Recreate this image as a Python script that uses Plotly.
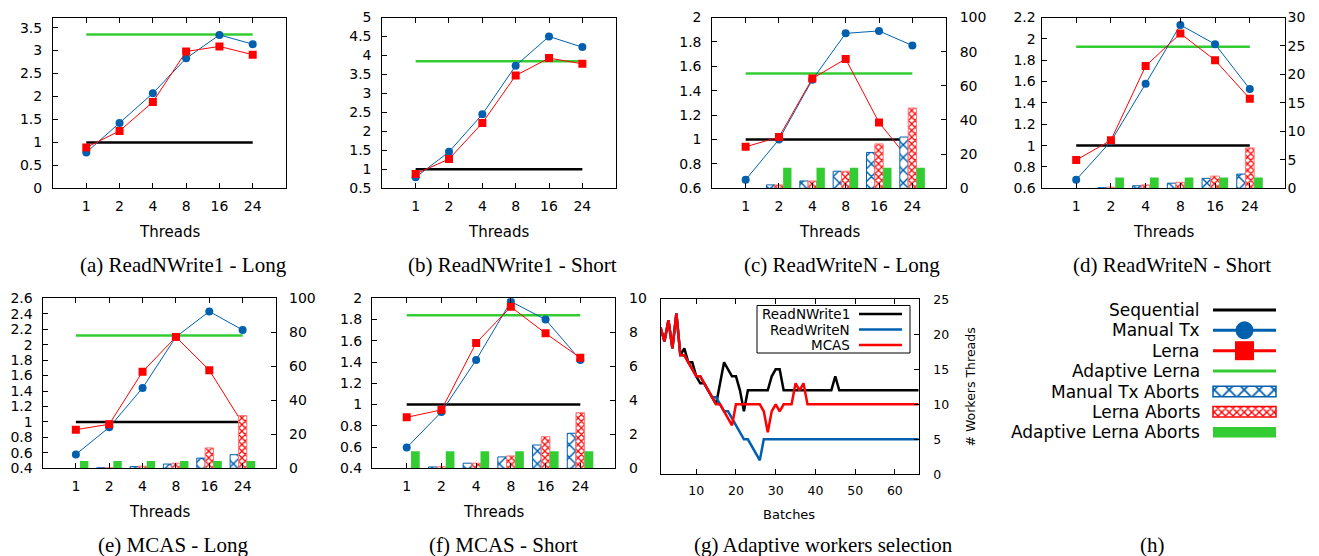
import plotly.graph_objects as go

W, H = 1319, 556

# ---------------- data ----------------
threads = ["1", "2", "4", "8", "16", "24"]
sequential = [1.0, 1.0, 1.0, 1.0, 1.0, 1.0]

# (a) ReadNWrite1 - Long
a_manual_tx = [0.78, 1.42, 2.07, 2.83, 3.34, 3.14]
a_lerna = [0.89, 1.25, 1.88, 2.98, 3.09, 2.91]
a_adaptive = [3.35, 3.35, 3.35, 3.35, 3.35, 3.35]

# (b) ReadNWrite1 - Short
b_manual_tx = [0.79, 1.46, 2.45, 3.73, 4.50, 4.22]
b_lerna = [0.88, 1.27, 2.22, 3.47, 3.93, 3.78]
b_adaptive = [3.85, 3.85, 3.85, 3.85, 3.85, 3.85]

# (c) ReadWriteN - Long
c_manual_tx = [0.67, 1.00, 1.49, 1.87, 1.89, 1.77]
c_lerna = [0.94, 1.02, 1.50, 1.66, 1.14, 0.80]
c_adaptive = [1.54, 1.54, 1.54, 1.54, 1.54, 1.54]
c_manual_aborts = [None, 2, 4.3, 10, 21, 30]
c_lerna_aborts = [None, 2, 4.3, 10, 26, 47]
c_adaptive_aborts = [None, 12, 12, 12, 12, 12]

# (d) ReadWriteN - Short
d_manual_tx = [0.68, 1.04, 1.58, 2.13, 1.95, 1.53]
d_lerna = [0.865, 1.05, 1.745, 2.05, 1.80, 1.44]
d_adaptive = [1.925, 1.925, 1.925, 1.925, 1.925, 1.925]
d_manual_aborts = [None, 0.1, 0.45, 0.9, 1.75, 2.5]
d_lerna_aborts = [None, 0.2, 0.6, 1.05, 2.15, 7.1]
d_adaptive_aborts = [None, 1.9, 1.9, 1.9, 1.9, 1.9]

# (e) MCAS - Long
e_manual_tx = [0.58, 0.93, 1.44, 2.10, 2.43, 2.19]
e_lerna = [0.90, 0.97, 1.65, 2.10, 1.67, 0.98]
e_adaptive = [2.12, 2.12, 2.12, 2.12, 2.12, 2.12]
e_manual_aborts = [None, 0.3, 1.0, 2.5, 6, 8]
e_lerna_aborts = [None, 0.3, 1.2, 3, 12, 31]
e_adaptive_aborts = [4.3, 4.3, 4.3, 4.3, 4.3, 4.3]

# (f) MCAS - Short
f_manual_tx = [0.595, 0.93, 1.42, 1.97, 1.80, 1.42]
f_lerna = [0.88, 0.95, 1.58, 1.92, 1.67, 1.44]
f_adaptive = [1.84, 1.84, 1.84, 1.84, 1.84, 1.84]
f_manual_aborts = [None, 0.08, 0.3, 0.67, 1.37, 2.06]
f_lerna_aborts = [None, 0.1, 0.3, 0.73, 1.86, 3.27]
f_adaptive_aborts = [1.0, 1.0, 1.0, 1.0, 1.0, 1.0]

# (g) Adaptive workers selection
batches = list(range(1, 67))
g_readnwrite1 = [21, 19, 22, 18, 23, 17, 18, 16, 16, 14,
                 13, 13, 12, 11, 10, 13, 16, 15, 14, 14,
                 12, 9, 12, 12, 12, 12, 12, 12, 14, 15,
                 15, 12, 12, 12, 12, 12, 12, 12, 12, 12,
                 12, 12, 12, 12, 14, 12, 12, 12, 12, 12,
                 12, 12, 12, 12, 12, 12, 12, 12, 12, 12,
                 12, 12, 12, 12, 12, 12]
g_readwriten = [21, 19, 22, 18, 23, 17, 17, 16, 15, 14,
                14, 13, 12, 11, 11, 10, 9, 9, 8, 7,
                6, 5, 5, 4, 3, 2, 5, 5, 5, 5,
                5, 5, 5, 5, 5, 5, 5, 5, 5, 5,
                5, 5, 5, 5, 5, 5, 5, 5, 5, 5,
                5, 5, 5, 5, 5, 5, 5, 5, 5, 5,
                5, 5, 5, 5, 5, 5]
g_mcas = [21, 19, 22, 18, 23, 17, 17, 16, 15, 14,
          14, 13, 12, 11, 10, 10, 9, 8, 7, 10,
          10, 10, 10, 10, 10, 10, 9, 6, 9, 10,
          9, 10, 10, 10, 13, 12, 13, 10, 10, 10,
          10, 10, 10, 10, 10, 10, 10, 10, 10, 10,
          10, 10, 10, 10, 10, 10, 10, 10, 10, 10,
          10, 10, 10, 10, 10, 10]

legend_h_labels = ["Sequential", "Manual Tx", "Lerna", "Adaptive Lerna",
                   "Manual Tx Aborts", "Lerna Aborts", "Adaptive Lerna Aborts"]
legend_g_labels = ["ReadNWrite1", "ReadWriteN", "MCAS"]

# ---------------- style ----------------
BLUE = "#0060ad"
RED = "#ff0000"
RED_EDGE = "#ff7777"
GREEN = "#33cc33"
BLACK = "#000000"
FONT = "DejaVu Sans"
SERIF = "Liberation Serif"


def fx(px):
    return px / W


def fy(py):
    return 1 - py / H


def ref(prefix, n):
    return prefix if n == 1 else f"{prefix}{n}"


def key(prefix, n):
    return f"{prefix}axis" if n == 1 else f"{prefix}axis{n}"


def tickfont(size):
    return dict(family=FONT, size=size, color=BLACK)


BLUE_PAT = dict(shape="x", fgcolor=BLUE, bgcolor="white", size=9,
                solidity=0.3, fillmode="overlay", fgopacity=1)
RED_PAT = dict(shape="x", fgcolor=RED, bgcolor="white", size=4.7,
               solidity=0.45, fillmode="overlay", fgopacity=1)

panels = [
    dict(box=(53, 286, 17.5, 188.3), yl=(0, 3.72, 0.5), yr=(0, 100, 20),
         lso=7, rso=13, cap="(a) ReadNWrite1 - Long", capx=183,
         manual=a_manual_tx, lerna=a_lerna, adaptive=a_adaptive, aborts=None),
    dict(box=(382.3, 615.7, 17.5, 188.3), yl=(0.5, 5, 0.5), yr=(0, 100, 20),
         lso=7, rso=13, cap="(b) ReadNWrite1 - Short", capx=512,
         manual=b_manual_tx, lerna=b_lerna, adaptive=b_adaptive, aborts=None),
    dict(box=(712.3, 945.7, 17.5, 188.3), yl=(0.6, 2.0, 0.2), yr=(0, 100, 20),
         lso=7, rso=13, cap="(c) ReadWriteN - Long", capx=842.5,
         manual=c_manual_tx, lerna=c_lerna, adaptive=c_adaptive,
         aborts=(c_manual_aborts, c_lerna_aborts, c_adaptive_aborts)),
    dict(box=(1041.5, 1284.5, 17.5, 188.3), yl=(0.6, 2.2, 0.2), yr=(0, 30, 5),
         lso=2, rso=2, cap="(d) ReadWriteN - Short", capx=1171.7,
         manual=d_manual_tx, lerna=d_lerna, adaptive=d_adaptive,
         aborts=(d_manual_aborts, d_lerna_aborts, d_adaptive_aborts)),
    dict(box=(42.5, 276, 298.3, 468.3), yl=(0.4, 2.6, 0.2), yr=(0, 100, 20),
         lso=6, rso=12, cap="(e) MCAS - Long", capx=172.5,
         manual=e_manual_tx, lerna=e_lerna, adaptive=e_adaptive,
         aborts=(e_manual_aborts, e_lerna_aborts, e_adaptive_aborts)),
    dict(box=(372, 615, 298.3, 468.3), yl=(0.4, 2.0, 0.2), yr=(0, 10, 2),
         lso=6, rso=13, cap="(f) MCAS - Short", capx=503,
         manual=f_manual_tx, lerna=f_lerna, adaptive=f_adaptive,
         aborts=(f_manual_aborts, f_lerna_aborts, f_adaptive_aborts)),
]

fig = go.Figure()
layout = dict(
    width=W, height=H, autosize=False,
    margin=dict(l=0, r=0, t=0, b=0),
    paper_bgcolor="white", plot_bgcolor="rgba(0,0,0,0)",
    showlegend=False, barmode="overlay",
    template="none",
    annotations=[], shapes=[],
)

for i, p in enumerate(panels):
    xn, yln, yrn = i + 1, 2 * i + 1, 2 * i + 2
    xr, ylr, yrr = ref("x", xn), ref("y", yln), ref("y", yrn)
    L, R, T, B = p["box"]
    layout[key("x", xn)] = dict(
        domain=[fx(L), fx(R)], anchor=ylr, type="category",
        categoryorder="array", categoryarray=threads, range=[-1, 6],
        ticks="inside", ticklen=5, tickwidth=1, tickcolor=BLACK,
        showline=True, linecolor=BLACK, linewidth=1, mirror="ticks",
        showgrid=False, zeroline=False, tickfont=tickfont(14),
        ticklabelstandoff=5, fixedrange=True)
    lo, hi, dt = p["yl"]
    layout[key("y", yln)] = dict(
        domain=[fy(B), fy(T)], anchor=xr, range=[lo, hi], tick0=lo, dtick=dt,
        ticks="inside", ticklen=5, tickwidth=1, tickcolor=BLACK,
        showline=True, linecolor=BLACK, linewidth=1, mirror=True,
        showgrid=False, zeroline=False, tickfont=tickfont(14),
        ticklabelstandoff=p["lso"], fixedrange=True)
    lo2, hi2, dt2 = p["yr"]
    layout[key("y", yrn)] = dict(
        overlaying=ylr, side="right", anchor=xr, range=[lo2, hi2], tick0=lo2,
        dtick=dt2, ticks="inside", ticklen=5, tickwidth=1, tickcolor=BLACK,
        showline=False, showgrid=False, zeroline=False, tickfont=tickfont(14),
        ticklabelstandoff=p["rso"], fixedrange=True)

    fig.add_trace(go.Scatter(x=threads, y=sequential, mode="lines",
                             line=dict(color=BLACK, width=2.5),
                             xaxis=xr, yaxis=ylr))
    fig.add_trace(go.Scatter(x=threads, y=p["adaptive"], mode="lines",
                             line=dict(color=GREEN, width=2.5),
                             xaxis=xr, yaxis=ylr))
    fig.add_trace(go.Scatter(x=threads, y=p["manual"], mode="lines+markers",
                             line=dict(color=BLUE, width=1),
                             marker=dict(symbol="circle", size=8, color=BLUE),
                             xaxis=xr, yaxis=ylr))
    fig.add_trace(go.Scatter(x=threads, y=p["lerna"], mode="lines+markers",
                             line=dict(color=RED, width=1),
                             marker=dict(symbol="square", size=8, color=RED),
                             xaxis=xr, yaxis=ylr))
    # abort bars on the right axis (overlay axis, drawn over the lines)
    if p["aborts"] is not None:
        man_ab, ler_ab, ada_ab = p["aborts"]
        fig.add_trace(go.Bar(
            x=threads, y=man_ab, offset=-0.375, width=0.25,
            marker=dict(color="white", line=dict(color=BLUE, width=1),
                        pattern=BLUE_PAT),
            xaxis=xr, yaxis=yrr))
        fig.add_trace(go.Bar(
            x=threads, y=ler_ab, offset=-0.125, width=0.25,
            marker=dict(color="white", line=dict(color=RED_EDGE, width=1),
                        pattern=RED_PAT),
            xaxis=xr, yaxis=yrr))
        fig.add_trace(go.Bar(
            x=threads, y=ada_ab, offset=0.125, width=0.25,
            marker=dict(color=GREEN, line=dict(width=0)),
            xaxis=xr, yaxis=yrr))

    row_y = 231.7 if T < 100 else 512.3
    cap_y = 265 if T < 100 else 544.5
    layout["annotations"].append(dict(
        text="Threads", x=fx((L + R) / 2), y=fy(row_y), xref="paper", yref="paper",
        showarrow=False, xanchor="center", yanchor="middle",
        font=dict(family=FONT, size=15, color=BLACK)))
    layout["annotations"].append(dict(
        text=p["cap"], x=fx(p["capx"]), y=fy(cap_y), xref="paper", yref="paper",
        showarrow=False, xanchor="center", yanchor="middle",
        font=dict(family=SERIF, size=21, color=BLACK)))

# ---------------- panel (g): single y axis on the right ----------------
gL, gR, gT, gB = 660.5, 918.7, 299.3, 474.3
layout["xaxis7"] = dict(
    domain=[fx(gL), fx(gR)], anchor="y13", range=[1, 66],
    tickvals=[10, 20, 30, 40, 50, 60], ticks="inside", ticklen=5,
    tickcolor=BLACK, showline=True, linecolor=BLACK, linewidth=1,
    mirror="ticks", showgrid=False, zeroline=False, tickfont=tickfont(12.5),
    ticklabelstandoff=5, fixedrange=True)
layout["yaxis13"] = dict(
    domain=[fy(gB), fy(gT)], anchor="x7", side="right", range=[0, 25], dtick=5,
    ticks="inside", ticklen=5, tickcolor=BLACK, showline=True, linecolor=BLACK,
    linewidth=1, mirror=True, showgrid=False, zeroline=False,
    tickfont=tickfont(12.5), ticklabelstandoff=11, fixedrange=True)
for series, color in ((g_readnwrite1, BLACK), (g_readwriten, BLUE), (g_mcas, RED)):
    fig.add_trace(go.Scatter(x=batches, y=series, mode="lines",
                             line=dict(color=color, width=2.5),
                             xaxis="x7", yaxis="y13"))
layout["annotations"] += [
    dict(text="Batches", x=fx(789), y=fy(514), xref="paper", yref="paper",
         showarrow=False, xanchor="center", yanchor="middle",
         font=dict(family=FONT, size=13, color=BLACK)),
    dict(text="# Workers Threads", x=fx(970), y=fy(387.5), xref="paper",
         yref="paper", showarrow=False, textangle=-90, xanchor="center",
         yanchor="middle", font=dict(family=FONT, size=12.5, color=BLACK)),
    dict(text="(g) Adaptive workers selection", x=fx(823), y=fy(544.5),
         xref="paper", yref="paper", showarrow=False, xanchor="center",
         yanchor="middle", font=dict(family=SERIF, size=21, color=BLACK)),
    dict(text="(h)", x=fx(1152), y=fy(544.5), xref="paper", yref="paper",
         showarrow=False, xanchor="center", yanchor="middle",
         font=dict(family=SERIF, size=21, color=BLACK)),
]

# legend box of (g)
layout["shapes"].append(dict(type="rect", xref="paper", yref="paper",
                             x0=fx(757), x1=fx(910), y0=fy(353), y1=fy(305.5),
                             line=dict(color=BLACK, width=1), fillcolor="white",
                             layer="above"))
for lab, color, ry in zip(legend_g_labels, (BLACK, BLUE, RED), (314, 329.5, 345)):
    layout["shapes"].append(dict(type="line", xref="paper", yref="paper",
                                 x0=fx(859), x1=fx(902), y0=fy(ry), y1=fy(ry),
                                 line=dict(color=color, width=2.5), layer="above"))
    layout["annotations"].append(dict(
        text=lab, x=fx(852), y=fy(ry), xref="paper", yref="paper",
        showarrow=False, xanchor="right", yanchor="middle",
        font=dict(family=FONT, size=13.5, color=BLACK)))

# ---------------- legend (h) on a hidden pixel-space axis ----------------
layout["xaxis8"] = dict(domain=[0, 1], anchor="y15", range=[0, W], visible=False,
                        fixedrange=True)
layout["yaxis15"] = dict(domain=[0, 1], anchor="x8", range=[H, 0], visible=False,
                         fixedrange=True)
rows = [310, 330.3, 350.7, 371, 391.5, 411.8, 432.2]
sx0, sx1 = 1213, 1276
sxc = (sx0 + sx1) / 2
for lab, ry in zip(legend_h_labels, rows):
    layout["annotations"].append(dict(
        text=lab, x=fx(1202), y=fy(ry), xref="paper", yref="paper",
        showarrow=False, xanchor="right", yanchor="middle",
        font=dict(family=FONT, size=17, color=BLACK)))
line_samples = [(BLACK, None, 0), (BLUE, "circle", 18), (RED, "square", 19), (GREEN, None, 0)]
for (color, sym, msz), ry in zip(line_samples, rows[:4]):
    fig.add_trace(go.Scatter(x=[sx0, sx1], y=[ry, ry], mode="lines",
                             line=dict(color=color, width=3),
                             xaxis="x8", yaxis="y15"))
    if sym:
        fig.add_trace(go.Scatter(x=[sxc], y=[ry], mode="markers",
                                 marker=dict(symbol=sym, size=msz, color=color),
                                 xaxis="x8", yaxis="y15"))
fig.add_trace(go.Bar(x=[sxc], y=[10.6], base=[rows[4] - 5.3], width=[sx1 - sx0],
                     marker=dict(color="white", line=dict(color=BLUE, width=1.5),
                                 pattern=dict(shape="x", fgcolor=BLUE, bgcolor="white",
                                              size=10.6, solidity=0.3, fillmode="overlay",
                                              fgopacity=1)),
                     xaxis="x8", yaxis="y15"))
fig.add_trace(go.Bar(x=[sxc], y=[10.6], base=[rows[5] - 5.3], width=[sx1 - sx0],
                     marker=dict(color="white", line=dict(color=RED, width=1.5),
                                 pattern=dict(shape="x", fgcolor=RED, bgcolor="white",
                                              size=5.3, solidity=0.45, fillmode="overlay",
                                              fgopacity=1)),
                     xaxis="x8", yaxis="y15"))
fig.add_trace(go.Bar(x=[sxc], y=[10.6], base=[rows[6] - 5.3], width=[sx1 - sx0],
                     marker=dict(color=GREEN, line=dict(width=0)),
                     xaxis="x8", yaxis="y15"))

fig.update_layout(**layout)
fig.write_html("out.html",
               config={"displayModeBar": False, "staticPlot": True},
               post_script="document.body.style.margin='0px';"
                           "document.body.style.overflow='hidden';")
